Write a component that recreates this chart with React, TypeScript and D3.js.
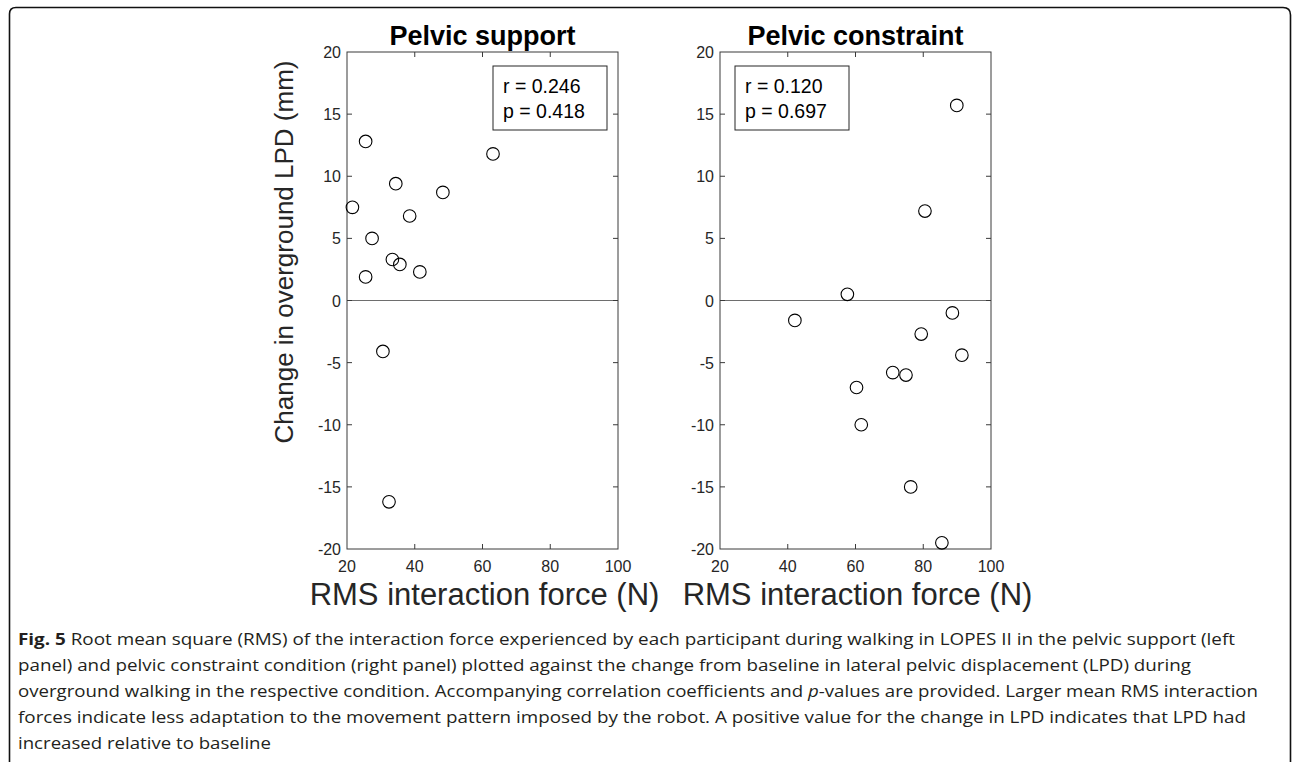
import React from "react";
import * as d3 from "d3";

// ---- Data ----
const supportForce = [25.5, 63.1, 34.4, 48.3, 21.6, 38.5, 27.4, 33.4, 35.6, 41.5, 25.5, 30.6, 32.4];
const supportLPD = [12.8, 11.8, 9.4, 8.7, 7.5, 6.8, 5.0, 3.3, 2.9, 2.3, 1.9, -4.1, -16.2];
const constraintForce = [89.9, 80.5, 57.6, 42.1, 88.6, 79.4, 91.4, 71.0, 74.9, 60.3, 61.7, 76.3, 85.5];
const constraintLPD = [15.7, 7.2, 0.5, -1.6, -1.0, -2.7, -4.4, -5.8, -6.0, -7.0, -10.0, -15.0, -19.5];

const xTicks = [20, 40, 60, 80, 100];
const yTicks = [-20, -15, -10, -5, 0, 5, 10, 15, 20];
const panelTitles = ["Pelvic support", "Pelvic constraint"];
const statR = ["r = 0.246", "r = 0.120"];
const statP = ["p = 0.418", "p = 0.697"];
const xLabel = "RMS interaction force (N)";
const yLabel = "Change in overground LPD (mm)";

const captionLines = [
  "Root mean square (RMS) of the interaction force experienced by each participant during walking in LOPES II in the pelvic support (left",
  "panel) and pelvic constraint condition (right panel) plotted against the change from baseline in lateral pelvic displacement (LPD) during",
  "overground walking in the respective condition. Accompanying correlation coefficients and |p|-values are provided. Larger mean RMS interaction",
  "forces indicate less adaptation to the movement pattern imposed by the robot. A positive value for the change in LPD indicates that LPD had",
  "increased relative to baseline",
];
const captionEnds = [1235, 1191, 1258, 1246, 271];

// ---- Layout ----
const W = 1292;
const H = 762;
const plotW = 271;
const plotTop = 52;
const plotBottom = 549;
const panelLefts = [347, 720];
const AX = "#3a3a3a";
const FONT = "'Liberation Sans', Arial, Helvetica, sans-serif";

function Panel({ idx, xs, ys }: { idx: number; xs: number[]; ys: number[] }) {
  const left = panelLefts[idx];
  const x = d3.scaleLinear().domain([20, 100]).range([left, left + plotW]);
  const y = d3.scaleLinear().domain([-20, 20]).range([plotBottom, plotTop]);
  const tl = 5;
  const boxW = 114;
  const boxX = idx === 0 ? left + plotW - 125 : left + 15;
  const boxY = 66;
  const boxH = 64;
  return (
    <g>
      {/* zero line */}
      <line x1={x(20)} x2={x(100)} y1={y(0)} y2={y(0)} stroke="#6e6e6e" strokeWidth={1} />
      {/* axes box */}
      <rect x={x(20)} y={y(20)} width={x(100) - x(20)} height={y(-20) - y(20)} fill="none" stroke={AX} strokeWidth={1} />
      {/* ticks */}
      {xTicks.slice(1, -1).map((t) => (
        <g key={"xt" + t}>
          <line x1={x(t)} x2={x(t)} y1={y(-20)} y2={y(-20) - tl} stroke={AX} />
          <line x1={x(t)} x2={x(t)} y1={y(20)} y2={y(20) + tl} stroke={AX} />
        </g>
      ))}
      {yTicks.slice(1, -1).map((t) => (
        <g key={"yt" + t}>
          <line x1={x(20)} x2={x(20) + tl} y1={y(t)} y2={y(t)} stroke={AX} />
          <line x1={x(100)} x2={x(100) - tl} y1={y(t)} y2={y(t)} stroke={AX} />
        </g>
      ))}
      {/* tick labels */}
      {xTicks.map((t) => (
        <text key={"xl" + t} x={x(t)} y={y(-20) + 23} fontSize={16} textAnchor="middle" fill="#262626" fontFamily={FONT}>
          {t}
        </text>
      ))}
      {yTicks.map((t) => (
        <text key={"yl" + t} x={x(20) - 6} y={y(t) + 6} fontSize={16} textAnchor="end" fill="#262626" fontFamily={FONT}>
          {t}
        </text>
      ))}
      {/* points */}
      {xs.map((v, i) => (
        <circle key={i} cx={x(v)} cy={y(ys[i])} r={6.3} fill="none" stroke="#000" strokeWidth={1.1} />
      ))}
      {/* title */}
      <text x={(x(20) + x(100)) / 2} y={44.5} fontSize={27} fontWeight="bold" textAnchor="middle" fill="#000" fontFamily={FONT}>
        {panelTitles[idx]}
      </text>
      {/* stats box */}
      <rect x={boxX} y={boxY} width={boxW} height={boxH} fill="#fff" stroke="#262626" strokeWidth={1} />
      <text x={boxX + 10} y={92.5} fontSize={19.5} fill="#000" fontFamily={FONT}>
        {statR[idx]}
      </text>
      <text x={boxX + 10} y={117.5} fontSize={19.5} fill="#000" fontFamily={FONT}>
        {statP[idx]}
      </text>
      {/* x label */}
      <text x={(x(20) + x(100)) / 2 + 2} y={605} fontSize={31} textAnchor="middle" fill="#262626" fontFamily={FONT}>
        {xLabel}
      </text>
    </g>
  );
}

function CaptionLine({ text, i }: { text: string; i: number }) {
  const y = 645 + i * 26;
  const x0 = 18;
  const parts = text.split("|");
  return (
    <text
      x={x0}
      y={y}
      fontSize={16.5}
      fill="#231f20"
      fontFamily="'Open Sans', 'Noto Sans', sans-serif"
      textLength={captionEnds[i] - x0}
      lengthAdjust="spacingAndGlyphs"
    >
      {i === 0 ? <tspan fontWeight="bold">Fig. 5 </tspan> : null}
      {parts.map((p, k) =>
        k % 2 === 1 ? (
          <tspan key={k} fontStyle="italic">
            {p}
          </tspan>
        ) : (
          <tspan key={k}>{p}</tspan>
        )
      )}
    </text>
  );
}

export default function App() {
  return (
    <svg
      width={W}
      height={H}
      viewBox={`0 0 ${W} ${H}`}
      style={{ position: "absolute", left: 0, top: 0, background: "#fff" }}
    >
      <rect x={0} y={0} width={W} height={H} fill="#fff" />
      {/* outer frame */}
      <path d={`M9.5,${H + 5} L9.5,14 Q9.5,7.5 16,7.5 L1283,7.5 Q1290.5,7.5 1290.5,15 L1290.5,${H + 5}`} fill="none" stroke="#111" strokeWidth={1.6} />
      <Panel idx={0} xs={supportForce} ys={supportLPD} />
      <Panel idx={1} xs={constraintForce} ys={constraintLPD} />
      {/* y label */}
      <text
        transform={`translate(293,252) rotate(-90)`}
        fontSize={26}
        textAnchor="middle"
        fill="#262626"
        fontFamily={FONT}
      >
        {yLabel}
      </text>
      {captionLines.map((t, i) => (
        <CaptionLine key={i} text={t} i={i} />
      ))}
    </svg>
  );
}
